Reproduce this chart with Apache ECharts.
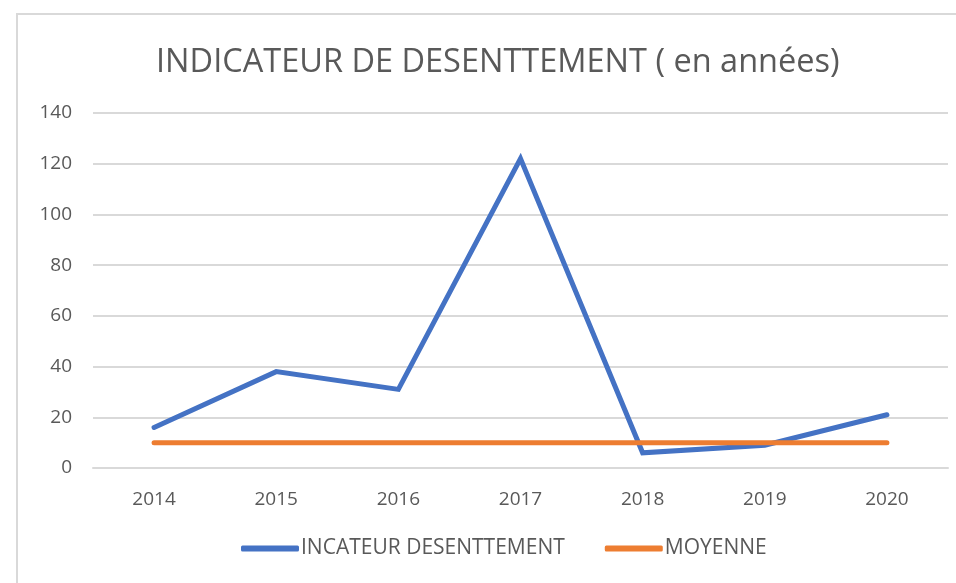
<!DOCTYPE html>
<html>
<head>
<meta charset="utf-8">
<script src="https://cdn.jsdelivr.net/npm/echarts@6/dist/echarts.min.js"></script>
<style>
    html, body { margin: 0; padding: 0; background: #fff; }
    .frame {
        position: absolute;
        left: 16px;
        top: 13px;
        width: 960px;
        height: 600px;
        border: 2px solid #d9d9d9;
        box-sizing: border-box;
    }
    #chart {
        position: absolute;
        left: 0;
        top: 0;
        width: 956px;
        height: 583px;
    }
</style>
</head>
<body>
<div class="frame"></div>
<div id="chart"></div>
<script>
    // données
    var years = ['2014', '2015', '2016', '2017', '2018', '2019', '2020'];
    var indicateur = [16, 38, 31, 122, 6, 9, 21];
    var moyenne = [10, 10, 10, 10, 10, 10, 10];

    var font = '"Open Sans", sans-serif';
    var myChart = echarts.init(document.getElementById('chart'));

    var option = {
      animation: false,
      title: {
        text: 'INDICATEUR DE DESENTTEMENT ( en années)',
        left: 151,
        top: 41,
        textStyle: {
          fontFamily: font,
          fontSize: 32.5,
          fontWeight: 'normal',
          color: '#595959'
        }
      },
      legend: {
        bottom: 19,
        left: 236,
        icon: 'roundRect',
        itemWidth: 58,
        itemHeight: 6,
        itemGap: 40,
        textStyle: {
          fontFamily: font,
          fontSize: 21,
          color: '#595959',
          padding: [0, 0, 0, -3]
        },
        data: ['INCATEUR DESENTTEMENT', 'MOYENNE']
      },
      grid: {
        left: 93,
        right: 8,
        top: 113,
        bottom: 115,
        containLabel: false
      },
      xAxis: {
        type: 'category',
        data: years,
        boundaryGap: true,
        axisLine: { show: true, lineStyle: { color: '#d9d9d9', width: 2 } },
        axisTick: { show: false },
        axisLabel: {
          margin: 22,
          fontFamily: font,
          fontSize: 19,
          color: '#595959'
        }
      },
      yAxis: {
        type: 'value',
        min: 0,
        max: 140,
        interval: 20,
        axisLine: { show: false },
        axisTick: { show: false },
        splitLine: { lineStyle: { color: '#d9d9d9', width: 2 } },
        axisLabel: {
          margin: 21,
          fontFamily: font,
          fontSize: 19,
          color: '#595959'
        }
      },
      series: [
        {
          name: 'INCATEUR DESENTTEMENT',
          type: 'line',
          data: indicateur,
          symbol: 'none',
          lineStyle: { color: '#4472C4', width: 5, cap: 'round', join: 'miter' },
          itemStyle: { color: '#4472C4' }
        },
        {
          name: 'MOYENNE',
          type: 'line',
          data: moyenne,
          symbol: 'none',
          lineStyle: { color: '#ED7D31', width: 5, cap: 'round' },
          itemStyle: { color: '#ED7D31' }
        }
      ]
    };

    myChart.setOption(option);
</script>
</body>
</html>
